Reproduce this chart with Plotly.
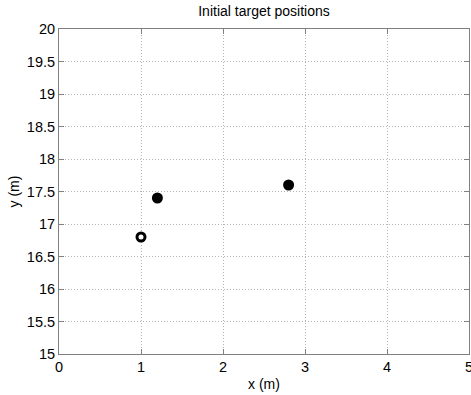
import plotly.graph_objects as go

filled_x = [1.2, 2.8]
filled_y = [17.4, 17.6]
open_x = [1.0]
open_y = [16.8]
x_ticks = [0, 1, 2, 3, 4, 5]
y_ticks = [15, 15.5, 16, 16.5, 17, 17.5, 18, 18.5, 19, 19.5, 20]
y_labels = ["15", "15.5", "16", "16.5", "17", "17.5", "18", "18.5", "19", "19.5", "20"]

font = "Liberation Sans, Arial, sans-serif"

fig = go.Figure()
fig.add_trace(go.Scatter(x=filled_x, y=filled_y, mode="markers",
                         marker=dict(size=11, color="black", line=dict(width=0)),
                         showlegend=False))
fig.add_trace(go.Scatter(x=open_x, y=open_y, mode="markers",
                         marker=dict(size=8, color="white", symbol="circle",
                                     line=dict(width=3, color="black")),
                         showlegend=False))

axis_common = dict(showline=True, linecolor="#808080", linewidth=1, mirror="ticks",
                   ticks="inside", ticklen=5, tickcolor="#808080",
                   showgrid=True, gridcolor="#b4b4b4", griddash="1px,2px", gridwidth=1,
                   zeroline=False, ticklabeloverflow="allow",
                   tickfont=dict(family=font, size=14.5, color="black"))

fig.update_layout(
    width=474, height=395,
    margin=dict(l=59, r=1, t=29, b=41),
    paper_bgcolor="white", plot_bgcolor="white",
    title=dict(text="Initial target positions", x=0.5, xref="paper", y=0.985, yanchor="top",
               font=dict(family=font, size=14, color="black")),
    xaxis=dict(range=[0, 5], tickvals=x_ticks, ticktext=[str(v) for v in x_ticks],
               title=dict(text="x (m)", font=dict(family=font, size=14, color="black"), standoff=4),
               **axis_common),
    yaxis=dict(range=[15, 20], tickvals=y_ticks, ticktext=y_labels,
               title=dict(text="y (m)", font=dict(family=font, size=14, color="black"), standoff=3),
               **axis_common),
)

fig.write_html("out.html", config={"displayModeBar": False},
               post_script="document.body.style.margin='0';document.body.style.overflow='hidden';document.documentElement.style.overflow='hidden';")
